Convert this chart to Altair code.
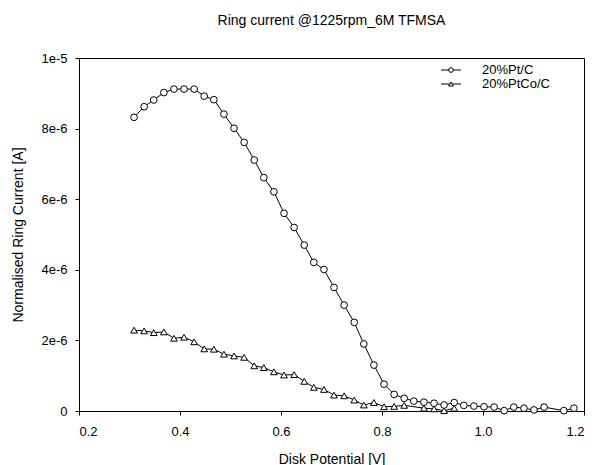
import altair as alt
import pandas as pd

FONT = "Liberation Sans"

# Disk potential [V] for each sample point (Pt/C)
pt_x = [0.309, 0.329, 0.348, 0.368, 0.388, 0.408, 0.428, 0.448, 0.467, 0.487,
        0.507, 0.527, 0.547, 0.566, 0.586, 0.606, 0.626, 0.646, 0.665, 0.685,
        0.705, 0.725, 0.745, 0.764, 0.784, 0.804, 0.824, 0.844, 0.863, 0.883,
        0.903, 0.923, 0.943, 0.962, 0.982, 1.002, 1.022, 1.042, 1.061, 1.081,
        1.101, 1.121, 1.160, 1.180]
# Ring current in units of 1e-6 A (Pt/C)
pt_y = [8.32, 8.62, 8.81, 9.02, 9.12, 9.12, 9.12, 8.92, 8.82, 8.41,
        8.01, 7.61, 7.11, 6.61, 6.21, 5.60, 5.20, 4.70, 4.21, 4.01,
        3.50, 3.00, 2.51, 1.90, 1.30, 0.76, 0.47, 0.36, 0.28, 0.25,
        0.22, 0.17, 0.24, 0.16, 0.14, 0.12, 0.11, 0.01, 0.11, 0.08,
        0.03, 0.11, 0.01, 0.08]

# PtCo/C
co_x = [0.309, 0.329, 0.348, 0.368, 0.388, 0.408, 0.428, 0.448, 0.467, 0.487,
        0.507, 0.527, 0.547, 0.566, 0.586, 0.606, 0.626, 0.646, 0.665, 0.685,
        0.705, 0.725, 0.745, 0.764, 0.784, 0.804, 0.824, 0.844, 0.883, 0.903,
        0.923, 0.943]
co_y = [2.29, 2.27, 2.22, 2.24, 2.06, 2.09, 1.96, 1.76, 1.75, 1.61,
        1.56, 1.52, 1.28, 1.23, 1.11, 1.02, 1.03, 0.84, 0.67, 0.61,
        0.45, 0.43, 0.31, 0.17, 0.24, 0.12, 0.13, 0.16, 0.08, 0.06,
        0.01, 0.08]

series_names = ["20%Pt/C", "20%PtCo/C"]
x_ticks = [0.2, 0.4, 0.6, 0.8, 1.0, 1.2]
y_ticks = [0, 2e-6, 4e-6, 6e-6, 8e-6, 1e-5]

pt_df = pd.DataFrame({"x": pt_x, "y": [v * 1e-6 for v in pt_y]})
co_df = pd.DataFrame({"x": co_x, "y": [v * 1e-6 for v in co_y]})

xs = alt.Scale(domain=[0.2, 1.2], nice=False, zero=False)
ys = alt.Scale(domain=[0, 1e-5], nice=False)

xenc = alt.X("x:Q", scale=xs, axis=alt.Axis(
    title="Disk Potential [V]", values=x_ticks, format=".1f", grid=False,
    tickSize=4, labelPadding=10, titlePadding=14))
yenc = alt.Y("y:Q", scale=ys, axis=alt.Axis(
    title="Normalised Ring Current [A]", values=y_ticks, grid=False,
    labelExpr="datum.value == 0 ? '0' : format(datum.value, '.0e')",
    tickSize=4, labelPadding=8, titlePadding=15))


def series(df, shape):
    line = alt.Chart(df).mark_line(color="black", strokeWidth=1).encode(x=xenc, y=yenc)
    pts = alt.Chart(df).mark_point(shape=shape, filled=True, fill="white",
                                   stroke="black", strokeWidth=1, size=45,
                                   opacity=1).encode(x=xenc, y=yenc)
    return [line, pts]


layers = series(co_df, "triangle-up") + series(pt_df, "circle")

# legend (drawn manually to show line + marker)
leg = []
for name, shape, ypx in [(series_names[0], "circle", 12), (series_names[1], "triangle-up", 26)]:
    d = pd.DataFrame({"label": [name]})
    leg.append(alt.Chart(d).mark_rule(color="black", strokeWidth=1).encode(
        x=alt.value(362), x2=alt.value(382), y=alt.value(ypx)))
    leg.append(alt.Chart(d).mark_point(shape=shape, filled=True, fill="white",
                                       stroke="black", strokeWidth=1, size=22,
                                       opacity=1).encode(
        x=alt.value(372), y=alt.value(ypx)))
    leg.append(alt.Chart(d).mark_text(align="left", baseline="middle", font=FONT,
                                      fontSize=13, color="black").encode(
        x=alt.value(403), y=alt.value(ypx), text="label:N"))

chart = alt.layer(*layers, *leg).properties(
    width=505, height=353,
    title=alt.TitleParams("Ring current @1225rpm_6M TFMSA", font=FONT, fontSize=14,
                          fontWeight="normal", anchor="middle", offset=24, color="black"),
    autosize=alt.AutoSizeParams(type="none"),
    padding={"left": 71, "top": 50, "right": 3, "bottom": 62},
).configure_view(stroke="black", strokeWidth=1).configure_axis(
    domainColor="black", tickColor="black", labelColor="black", titleColor="black",
    labelFont=FONT, titleFont=FONT, labelFontSize=13, titleFontSize=14,
    titleFontWeight="normal", domainWidth=1, tickWidth=1)

chart.save("out.html", embed_options={"renderer": "svg", "actions": False})
